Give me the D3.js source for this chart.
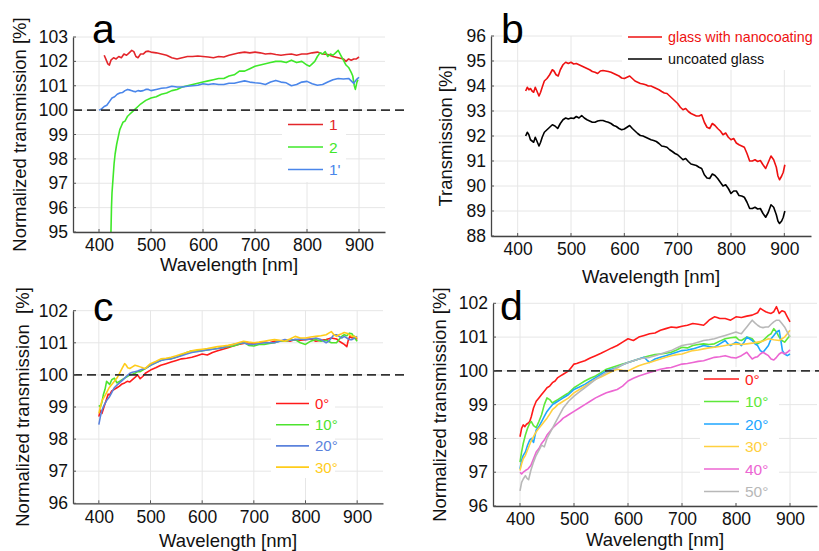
<!DOCTYPE html>
<html><head><meta charset="utf-8">
<script src="https://cdn.jsdelivr.net/npm/d3@7/dist/d3.min.js"></script>
<style>body{margin:0;background:#fff}svg{display:block}text{font-family:"Liberation Sans",Arial,sans-serif}</style>
</head><body>
<svg id="c" width="819" height="551"></svg>
<script>
// ---------- DATA ----------
const wavelengthTicks = [400, 500, 600, 700, 800, 900];
const yTicksA = [95, 96, 97, 98, 99, 100, 101, 102, 103];
const yTicksB = [88, 89, 90, 91, 92, 93, 94, 95, 96];
const yTicksC = [96, 97, 98, 99, 100, 101, 102];
const yTicksD = [96, 97, 98, 99, 100, 101, 102];

const labelsA = ["1", "2", "1'"];
const labelsB = ["glass with nanocoating", "uncoated glass"];
const labelsC = ["0°", "10°", "20°", "30°"];
const labelsD = ["0°", "10°", "20°", "30°", "40°", "50°"];

const seriesA1 = [[410,102.25],[413,102.1],[417,101.9],[420,101.85],[423,102.05],[428,102.15],[433,102.1],[438,102.2],[443,102.15],[448,102.3],[453,102.25],[458,102.35],[463,102.45],[467,102.4],[471,102.2],[475,102.15],[480,102.3],[485,102.3],[490,102.4],[495,102.42],[500,102.38],[510,102.35],[520,102.3],[530,102.25],[540,102.15],[550,102.1],[560,102.15],[570,102.2],[580,102.2],[590,102.22],[600,102.2],[610,102.18],[620,102.15],[630,102.2],[640,102.18],[650,102.25],[660,102.3],[670,102.35],[680,102.38],[690,102.35],[700,102.38],[710,102.35],[720,102.3],[730,102.32],[740,102.28],[750,102.25],[760,102.28],[770,102.3],[780,102.25],[790,102.3],[800,102.3],[810,102.35],[820,102.38],[830,102.3],[840,102.28],[850,102.2],[860,102.15],[870,102.1],[875,102.0],[880,102.1],[885,102.05],[890,102.1],[895,102.1],[900,102.18]];
const seriesA2 = [[423,95.0],[424,96.0],[425,96.6],[427,97.2],[429,97.8],[431,98.2],[434,98.6],[437,98.9],[440,99.2],[443,99.35],[446,99.5],[450,99.55],[455,99.75],[460,99.85],[465,99.95],[470,100.05],[475,100.15],[480,100.25],[490,100.4],[500,100.5],[510,100.55],[520,100.65],[530,100.7],[540,100.8],[550,100.85],[560,100.95],[570,101.0],[580,101.05],[590,101.1],[600,101.15],[610,101.2],[620,101.25],[630,101.3],[640,101.3],[650,101.4],[660,101.45],[670,101.6],[680,101.6],[690,101.7],[700,101.8],[710,101.85],[720,101.9],[730,101.95],[740,102.0],[750,102.0],[760,101.95],[770,102.05],[780,101.95],[790,102.0],[800,101.85],[805,101.8],[810,101.9],[815,102.0],[820,102.2],[825,102.35],[830,102.3],[835,102.4],[840,102.2],[845,102.3],[850,102.25],[855,102.35],[860,102.45],[865,102.25],[870,102.05],[875,101.85],[880,101.75],[885,101.55],[888,101.4],[891,101.0],[893,100.85],[896,101.15],[898,101.25]];
const seriesA3 = [[400,100.0],[405,100.05],[410,100.15],[415,100.2],[420,100.35],[425,100.5],[430,100.55],[435,100.65],[440,100.7],[445,100.72],[450,100.8],[455,100.85],[460,100.82],[465,100.78],[470,100.75],[475,100.8],[480,100.78],[485,100.8],[490,100.85],[495,100.85],[500,100.8],[510,100.85],[520,100.9],[530,100.92],[540,100.98],[550,100.95],[560,100.95],[570,100.98],[580,101.0],[590,101.02],[600,101.08],[610,101.05],[620,101.08],[630,101.05],[640,101.05],[650,101.1],[660,101.1],[670,101.15],[680,101.2],[690,101.15],[700,101.12],[710,101.1],[720,101.05],[730,101.15],[740,101.22],[750,101.15],[760,101.12],[770,101.0],[780,101.05],[790,101.15],[800,101.18],[810,101.08],[820,101.02],[830,101.05],[840,101.15],[850,101.25],[860,101.3],[870,101.28],[880,101.3],[885,101.2],[890,101.1],[895,101.25],[900,101.35]];

const seriesB1 = [[415,93.8],[418,93.95],[421,93.85],[424,93.9],[427,93.8],[430,93.75],[433,93.95],[436,93.8],[440,93.6],[443,93.75],[446,93.95],[450,94.2],[455,94.3],[460,94.45],[465,94.65],[468,94.6],[472,94.45],[476,94.4],[480,94.65],[485,94.85],[490,94.95],[495,94.9],[500,94.95],[505,94.88],[510,94.9],[515,94.85],[520,94.8],[525,94.75],[530,94.7],[535,94.65],[540,94.58],[545,94.55],[550,94.5],[555,94.6],[560,94.62],[565,94.6],[570,94.58],[575,94.55],[580,94.5],[585,94.45],[590,94.4],[595,94.32],[600,94.3],[605,94.35],[610,94.4],[615,94.3],[620,94.2],[625,94.15],[630,94.1],[635,94.08],[640,94.05],[645,94.0],[650,94.0],[655,93.95],[660,93.9],[665,93.85],[670,93.78],[675,93.72],[680,93.7],[685,93.6],[690,93.5],[695,93.4],[700,93.3],[705,93.15],[710,93.05],[715,93.1],[720,92.98],[725,92.9],[730,92.85],[735,92.8],[740,92.8],[745,92.85],[750,92.55],[755,92.35],[760,92.3],[765,92.5],[770,92.42],[775,92.3],[780,92.2],[785,92.05],[790,92.12],[795,91.95],[800,91.85],[805,91.9],[810,91.72],[815,91.65],[820,91.6],[825,91.55],[830,91.3],[835,91.0],[840,91.0],[845,91.05],[850,90.98],[855,91.02],[860,90.85],[865,90.7],[870,90.95],[875,91.2],[880,91.05],[885,90.75],[888,90.4],[891,90.25],[895,90.4],[898,90.55],[901,90.85]];
const seriesB2 = [[415,92.0],[418,92.15],[421,92.05],[424,91.85],[427,91.8],[430,91.75],[433,91.95],[436,91.8],[440,91.6],[443,91.75],[446,91.95],[450,92.15],[455,92.25],[460,92.35],[465,92.45],[470,92.4],[475,92.3],[480,92.5],[485,92.65],[490,92.72],[495,92.68],[500,92.72],[505,92.7],[510,92.78],[515,92.72],[520,92.82],[525,92.72],[530,92.65],[535,92.6],[540,92.55],[545,92.55],[550,92.6],[555,92.62],[560,92.62],[565,92.58],[570,92.55],[575,92.5],[580,92.42],[585,92.38],[590,92.3],[595,92.25],[600,92.28],[605,92.35],[610,92.42],[615,92.3],[620,92.2],[625,92.1],[630,92.02],[635,92.0],[640,91.95],[645,91.9],[650,91.85],[655,91.82],[660,91.78],[665,91.7],[670,91.6],[675,91.58],[680,91.55],[685,91.45],[690,91.38],[695,91.3],[700,91.25],[705,91.15],[710,91.05],[715,91.1],[720,90.98],[725,90.88],[730,90.85],[735,90.82],[740,90.75],[745,90.7],[750,90.45],[755,90.32],[760,90.3],[765,90.48],[770,90.42],[775,90.3],[780,90.15],[785,90.0],[790,90.05],[795,89.9],[800,89.7],[805,89.8],[810,89.8],[815,89.62],[820,89.6],[825,89.55],[830,89.35],[835,89.1],[840,89.1],[845,89.15],[850,89.08],[855,89.1],[860,88.9],[865,88.75],[870,88.95],[875,89.25],[880,89.15],[885,88.85],[888,88.6],[891,88.5],[895,88.6],[898,88.75],[901,89.0]];

const seriesC1 = [[400,98.7],[403,98.9],[406,98.8],[409,98.95],[412,99.1],[415,99.25],[418,99.4],[421,99.38],[425,99.5],[430,99.55],[435,99.6],[440,99.65],[445,99.72],[450,99.75],[455,99.8],[460,99.78],[465,99.85],[470,99.92],[475,100.0],[480,99.88],[485,99.95],[490,100.05],[500,100.15],[510,100.22],[520,100.3],[530,100.35],[540,100.4],[550,100.45],[560,100.5],[570,100.52],[580,100.55],[590,100.6],[600,100.65],[610,100.62],[620,100.7],[630,100.75],[640,100.8],[650,100.85],[660,100.9],[670,100.95],[680,100.98],[690,101.0],[700,100.98],[710,101.0],[720,101.02],[730,101.0],[740,101.05],[750,101.05],[760,101.08],[770,101.05],[780,101.1],[790,101.08],[800,101.1],[810,101.12],[820,101.05],[830,101.08],[840,101.1],[850,101.15],[860,101.12],[865,101.05],[870,101.0],[875,100.95],[880,100.88],[883,101.1],[886,101.2],[890,101.15],[895,101.2],[900,101.1]];
const seriesC2 = [[400,99.05],[403,99.0],[406,99.15],[409,99.4],[412,99.55],[415,99.8],[418,99.75],[421,99.7],[425,99.85],[430,99.9],[435,99.75],[440,99.8],[445,99.85],[450,99.9],[455,99.95],[460,100.0],[465,100.02],[470,100.05],[475,100.1],[480,100.1],[485,100.15],[490,100.2],[500,100.3],[510,100.38],[520,100.45],[530,100.5],[540,100.5],[550,100.55],[560,100.62],[570,100.7],[580,100.75],[590,100.75],[600,100.75],[610,100.78],[620,100.8],[630,100.82],[640,100.85],[650,100.88],[660,100.9],[670,100.95],[680,101.02],[690,100.92],[700,100.9],[710,100.95],[720,100.95],[730,100.98],[740,101.0],[750,101.05],[760,101.05],[770,101.08],[780,101.1],[790,101.0],[800,100.95],[810,101.05],[820,101.1],[830,101.05],[840,101.08],[850,101.0],[860,101.0],[865,101.1],[870,101.2],[875,101.25],[880,101.22],[885,101.3],[890,101.28],[895,101.15],[900,101.05]];
const seriesC3 = [[400,98.45],[403,98.7],[406,98.9],[410,99.05],[415,99.2],[420,99.3],[425,99.45],[430,99.6],[435,99.68],[440,99.75],[445,99.82],[450,99.9],[455,99.98],[460,100.05],[465,100.08],[470,100.1],[475,100.12],[480,100.15],[485,100.18],[490,100.2],[500,100.3],[510,100.38],[520,100.45],[530,100.48],[540,100.5],[550,100.55],[560,100.6],[570,100.65],[580,100.7],[590,100.72],[600,100.75],[610,100.78],[620,100.8],[630,100.82],[640,100.85],[650,100.9],[660,100.95],[670,100.98],[680,101.0],[690,100.95],[700,100.95],[710,100.98],[720,101.0],[730,101.0],[740,101.0],[750,101.05],[760,101.1],[770,101.08],[780,101.1],[790,101.12],[800,101.1],[810,101.12],[820,101.15],[830,101.1],[840,101.0],[845,101.05],[850,101.15],[855,101.25],[860,101.25],[865,101.2],[870,101.15],[875,101.2],[880,101.15],[885,101.1],[890,101.1],[895,101.15],[900,101.2]];
const seriesC4 = [[400,98.8],[403,99.0],[406,99.2],[410,99.3],[415,99.45],[420,99.6],[425,99.7],[430,99.8],[435,99.9],[440,100.05],[445,100.2],[450,100.35],[453,100.3],[456,100.22],[460,100.2],[465,100.25],[470,100.3],[475,100.28],[480,100.25],[485,100.22],[490,100.2],[495,100.28],[500,100.35],[510,100.42],[520,100.5],[530,100.52],[540,100.55],[550,100.6],[560,100.65],[570,100.7],[580,100.75],[590,100.78],[600,100.8],[610,100.82],[620,100.85],[630,100.88],[640,100.9],[650,100.92],[660,100.95],[670,101.0],[680,101.05],[690,101.02],[700,101.0],[710,101.02],[720,101.05],[730,101.08],[740,101.1],[750,101.08],[760,101.05],[770,101.12],[780,101.2],[790,101.15],[800,101.15],[810,101.18],[820,101.2],[830,101.22],[840,101.25],[845,101.3],[850,101.35],[855,101.25],[860,101.2],[865,101.25],[870,101.28],[875,101.32],[880,101.3],[885,101.25],[890,101.2],[895,101.2],[900,101.15]];

const seriesD1 = [[400,98.05],[403,98.3],[406,98.4],[409,98.35],[412,98.42],[415,98.45],[418,98.5],[421,98.65],[425,98.9],[430,99.1],[435,99.2],[440,99.3],[445,99.4],[450,99.5],[455,99.55],[460,99.65],[465,99.7],[470,99.8],[475,99.85],[480,99.9],[485,99.95],[490,100.0],[495,100.1],[500,100.2],[505,100.22],[510,100.25],[520,100.3],[530,100.38],[540,100.45],[550,100.52],[560,100.6],[570,100.68],[580,100.75],[590,100.85],[600,100.95],[610,100.9],[620,101.0],[630,101.05],[640,101.1],[650,101.12],[660,101.2],[670,101.25],[680,101.3],[690,101.28],[700,101.32],[710,101.35],[720,101.4],[730,101.38],[740,101.35],[745,101.42],[750,101.5],[755,101.55],[760,101.6],[765,101.58],[770,101.55],[780,101.55],[790,101.5],[800,101.6],[810,101.58],[820,101.62],[830,101.65],[840,101.72],[845,101.85],[850,101.8],[855,101.75],[860,101.72],[865,101.7],[870,101.75],[875,101.9],[880,101.7],[885,101.78],[890,101.75],[895,101.6],[900,101.45]];
const seriesD2 = [[400,97.3],[403,97.6],[406,97.85],[410,98.1],[414,98.3],[418,98.45],[421,98.5],[425,98.38],[430,98.32],[435,98.5],[440,98.7],[445,99.0],[450,99.2],[455,99.15],[460,99.05],[465,99.1],[470,99.15],[475,99.2],[480,99.25],[485,99.3],[490,99.35],[500,99.5],[510,99.6],[520,99.7],[530,99.78],[540,99.85],[550,99.95],[560,100.05],[570,100.1],[580,100.15],[590,100.2],[600,100.25],[610,100.3],[620,100.35],[630,100.4],[640,100.45],[650,100.48],[660,100.5],[670,100.52],[680,100.55],[690,100.62],[700,100.7],[710,100.68],[720,100.75],[730,100.78],[740,100.8],[750,100.78],[760,100.8],[770,100.88],[780,100.95],[790,100.98],[800,101.0],[805,100.92],[810,100.9],[815,100.95],[820,101.0],[825,100.98],[830,100.95],[835,100.85],[840,100.8],[850,100.9],[860,101.05],[865,101.1],[870,101.25],[875,101.15],[880,101.0],[885,100.9],[890,100.85],[895,100.95],[900,101.05]];
const seriesD3 = [[400,97.1],[403,97.35],[406,97.5],[410,97.6],[414,97.8],[418,97.95],[421,98.0],[425,97.88],[430,98.25],[435,98.35],[440,98.5],[445,98.65],[450,98.8],[455,98.9],[460,99.0],[465,99.05],[470,99.1],[475,99.15],[480,99.2],[485,99.25],[490,99.3],[500,99.45],[510,99.52],[520,99.6],[530,99.7],[540,99.8],[550,99.9],[560,100.0],[570,100.05],[580,100.1],[590,100.18],[600,100.25],[610,100.3],[620,100.35],[630,100.4],[635,100.32],[640,100.25],[645,100.3],[650,100.35],[660,100.4],[670,100.45],[680,100.5],[690,100.55],[700,100.6],[710,100.62],[720,100.65],[730,100.7],[740,100.75],[750,100.72],[760,100.7],[770,100.8],[780,100.9],[785,100.8],[790,100.75],[800,100.85],[805,100.82],[810,100.75],[815,100.85],[820,101.0],[825,100.95],[830,100.9],[835,100.8],[840,100.75],[845,100.6],[850,100.55],[855,100.65],[860,100.75],[865,100.95],[870,101.05],[875,101.15],[880,101.2],[883,100.9],[886,100.6],[890,100.5],[895,100.45],[900,100.5]];
const seriesD4 = [[400,97.05],[403,97.25],[406,97.4],[410,97.5],[415,97.7],[420,97.9],[425,98.05],[430,98.2],[435,98.3],[440,98.4],[445,98.5],[450,98.6],[455,98.72],[460,98.85],[465,98.92],[470,99.0],[475,99.05],[480,99.1],[485,99.15],[490,99.2],[500,99.35],[510,99.45],[520,99.55],[530,99.65],[540,99.75],[550,99.82],[560,99.9],[570,99.98],[580,100.05],[590,100.02],[600,100.0],[610,100.08],[620,100.15],[630,100.2],[640,100.25],[650,100.3],[660,100.35],[670,100.4],[680,100.45],[690,100.48],[700,100.5],[710,100.55],[720,100.6],[730,100.62],[740,100.65],[750,100.68],[760,100.7],[770,100.72],[780,100.75],[790,100.78],[800,100.8],[810,100.78],[820,100.8],[830,100.82],[840,100.85],[850,100.88],[860,100.95],[870,100.92],[880,100.9],[885,100.95],[890,101.0],[895,101.1],[900,101.2]];
const seriesD5 = [[400,97.0],[403,96.95],[406,97.0],[410,97.05],[415,97.1],[420,97.2],[425,97.4],[430,97.6],[435,97.7],[440,97.85],[445,97.95],[450,98.1],[455,98.2],[460,98.3],[465,98.38],[470,98.45],[475,98.52],[480,98.6],[485,98.65],[490,98.7],[500,98.8],[510,98.9],[520,99.0],[530,99.1],[540,99.2],[550,99.28],[560,99.35],[570,99.4],[580,99.45],[590,99.55],[600,99.7],[610,99.78],[620,99.85],[630,99.9],[640,99.95],[650,100.0],[660,100.05],[670,100.08],[680,100.1],[690,100.15],[700,100.2],[710,100.22],[720,100.25],[730,100.28],[740,100.3],[750,100.35],[760,100.4],[770,100.42],[780,100.45],[790,100.4],[800,100.38],[810,100.45],[820,100.55],[825,100.45],[830,100.35],[835,100.4],[840,100.42],[845,100.5],[850,100.55],[855,100.5],[860,100.45],[865,100.35],[870,100.32],[875,100.4],[880,100.5],[885,100.55],[890,100.5],[895,100.55],[900,100.62]];
const seriesD6 = [[400,96.45],[403,96.7],[406,96.8],[410,96.9],[413,96.82],[416,96.78],[420,97.05],[425,97.3],[430,97.5],[435,97.65],[440,97.8],[445,97.75],[450,98.0],[455,98.15],[460,98.3],[465,98.45],[470,98.6],[475,98.75],[480,98.9],[485,99.0],[490,99.1],[500,99.25],[510,99.38],[520,99.5],[530,99.62],[540,99.75],[550,99.85],[560,99.95],[570,100.02],[580,100.1],[590,100.18],[600,100.25],[610,100.3],[620,100.35],[630,100.38],[640,100.4],[650,100.45],[660,100.5],[670,100.55],[680,100.6],[690,100.68],[700,100.75],[710,100.78],[720,100.8],[730,100.85],[740,100.9],[750,100.92],[760,100.95],[770,101.0],[780,101.05],[790,101.1],[800,101.15],[805,101.12],[810,101.1],[815,101.2],[820,101.3],[825,101.4],[830,101.5],[835,101.42],[840,101.35],[845,101.3],[850,101.28],[855,101.3],[860,101.3],[865,101.38],[870,101.45],[875,101.5],[880,101.5],[885,101.4],[890,101.3],[895,101.15],[900,101.0]];

// ---------- DRAW ----------
const svg = d3.select("#c");
const FONT = '"Liberation Sans", Arial, sans-serif';

function panel(p) {
  const x = d3.scaleLinear().domain([350, 950]).range([p.x0, p.x1]);
  const y = d3.scaleLinear().domain(p.yDomain).range([p.y0, p.y1]);
  const g = svg.append("g");

  // grid
  g.append("g").selectAll("line").data(p.yTicks).join("line")
    .attr("x1", p.x0).attr("x2", p.x1).attr("y1", d => y(d)).attr("y2", d => y(d))
    .attr("stroke", "#e6e6e6").attr("stroke-width", 1);
  g.append("g").selectAll("line").data(wavelengthTicks).join("line")
    .attr("y1", p.y0).attr("y2", p.y1).attr("x1", d => x(d)).attr("x2", d => x(d))
    .attr("stroke", "#e6e6e6").attr("stroke-width", 1);

  // legend background
  if (p.legBg) g.append("rect").attr("x", p.legBg[0]).attr("y", p.legBg[1])
    .attr("width", p.legBg[2]).attr("height", p.legBg[3]).attr("fill", "#fff");

  // data lines
  const line = d3.line().x(d => x(d[0])).y(d => y(d[1]));
  const clipId = "clip" + p.id;
  svg.append("clipPath").attr("id", clipId).append("rect")
    .attr("x", p.x0).attr("y", p.y1 - 4).attr("width", p.x1 - p.x0).attr("height", p.y0 - p.y1 + 4);
  const lg = g.append("g").attr("clip-path", `url(#${clipId})`);
  p.series.forEach((s, i) => {
    lg.append("path").datum(s).attr("d", line).attr("fill", "none")
      .attr("stroke", p.colors[i]).attr("stroke-width", 1.6).attr("stroke-linejoin", "round");
  });

  // dashed reference
  if (p.dashEnd) g.append("line").attr("x1", p.x0).attr("x2", p.dashEnd)
    .attr("y1", y(100)).attr("y2", y(100))
    .attr("stroke", "#333").attr("stroke-width", 1.6).attr("stroke-dasharray", "9,5");

  // axes
  const ax = d3.axisLeft(y).tickValues(p.yTicks).tickSize(0).tickPadding(5).tickFormat(d3.format("d"));
  const ay = g.append("g").attr("transform", `translate(${p.x0},0)`).call(ax);
  ay.select(".domain").attr("stroke", "#444").attr("stroke-width", 1.3);
  ay.selectAll("text").attr("font-family", FONT).attr("font-size", 17.5).attr("fill", "#111");
  const bx = d3.axisBottom(x).tickValues(wavelengthTicks).tickSize(0).tickPadding(7).tickFormat(d3.format("d"));
  const by = g.append("g").attr("transform", `translate(0,${p.y0})`).call(bx);
  by.select(".domain").attr("stroke", "#444").attr("stroke-width", 1.3);
  by.selectAll("text").attr("font-family", FONT).attr("font-size", 17.5).attr("fill", "#111");
  // small inward ticks
  g.append("g").selectAll("line").data(p.yTicks).join("line")
    .attr("x1", p.x0).attr("x2", p.x0 + 3).attr("y1", d => y(d)).attr("y2", d => y(d))
    .attr("stroke", "#555");
  g.append("g").selectAll("line").data(wavelengthTicks).join("line")
    .attr("y1", p.y0).attr("y2", p.y0 - 3).attr("x1", d => x(d)).attr("x2", d => x(d))
    .attr("stroke", "#555");

  // axis labels
  g.append("text").attr("x", (p.x0 + p.x1) / 2).attr("y", p.xLabY).attr("text-anchor", "middle")
    .attr("font-family", FONT).attr("font-size", 18.5).attr("fill", "#111").text("Wavelength [nm]");
  g.append("text").attr("transform", `translate(${p.yLabX},${(p.y0 + p.y1) / 2}) rotate(-90)`)
    .attr("text-anchor", "middle").attr("dy", "0.35em").attr("xml:space", "preserve")
    .style("white-space", "pre")
    .attr("font-family", FONT).attr("font-size", 18.5).attr("fill", "#111").text(p.yLabel);

  // panel letter
  g.append("text").attr("x", p.letter[1]).attr("y", p.letter[2])
    .attr("font-family", FONT).attr("font-size", 41).attr("fill", "#000").text(p.letter[0]);

  // legend
  p.labels.forEach((lab, i) => {
    const ly = p.leg.y + i * p.leg.dy;
    g.append("line").attr("x1", p.leg.x).attr("x2", p.leg.x + p.leg.len).attr("y1", ly).attr("y2", ly)
      .attr("stroke", p.colors[i]).attr("stroke-width", 1.6);
    g.append("text").attr("x", p.leg.x + p.leg.len + 6).attr("y", ly).attr("dy", "0.36em")
      .attr("font-family", FONT).attr("font-size", p.leg.fs).attr("fill", p.textColors ? p.textColors[i] : p.colors[i]).text(lab);
  });
}

panel({ id: "a", x0: 73, x1: 385, y0: 232, y1: 37, yDomain: [95, 103], yTicks: yTicksA,
  series: [seriesA1, seriesA2, seriesA3], colors: ["#e3262b", "#3fe82a", "#4a86ea"], labels: labelsA,
  dashEnd: 408, legBg: [282, 112, 64, 70], leg: { x: 288, y: 124.5, dy: 22.5, len: 35, fs: 15.5 },
  xLabY: 271, yLabX: 20, yLabel: "Normalized transmission [%]", letter: ["a", 92, 43] });

panel({ id: "b", x0: 491, x1: 811, y0: 236, y1: 36, yDomain: [88, 96], yTicks: yTicksB,
  series: [seriesB1, seriesB2], colors: ["#ee1111", "#000000"], textColors: ["#ee1111", "#111"], labels: labelsB,
  dashEnd: null, legBg: [622, 24, 197, 46], leg: { x: 628, y: 37, dy: 22, len: 34, fs: 14.3 },
  xLabY: 283, yLabX: 446, yLabel: "Transmission [%]", letter: ["b", 501, 43] });

panel({ id: "c", x0: 73, x1: 383, y0: 503.3, y1: 310.7, yDomain: [96, 102], yTicks: yTicksC,
  series: [seriesC1, seriesC2, seriesC3, seriesC4], colors: ["#ff1a1a", "#4de32e", "#5b82dc", "#ffcc1a"], labels: labelsC,
  dashEnd: 408, legBg: [271, 390, 64, 88], leg: { x: 276, y: 403.5, dy: 21.2, len: 33, fs: 15 },
  xLabY: 547, yLabX: 23, yLabel: "Normalized transmission  [%]", letter: ["c", 93, 321] });

panel({ id: "d", x0: 493, x1: 817, y0: 506, y1: 303.3, yDomain: [96, 102], yTicks: yTicksD,
  series: [seriesD1, seriesD2, seriesD3, seriesD4, seriesD5, seriesD6],
  colors: ["#ff1a1a", "#5ee83a", "#1ea6ff", "#ffd040", "#ec66d2", "#b8b8b8"], labels: labelsD,
  dashEnd: 819, legBg: [700, 367, 79, 136], leg: { x: 704, y: 379, dy: 22.5, len: 35, fs: 15.5 },
  xLabY: 546, yLabX: 440, yLabel: "Normalized transmission [%]", letter: ["d", 500, 320] });
</script>
</body></html>
